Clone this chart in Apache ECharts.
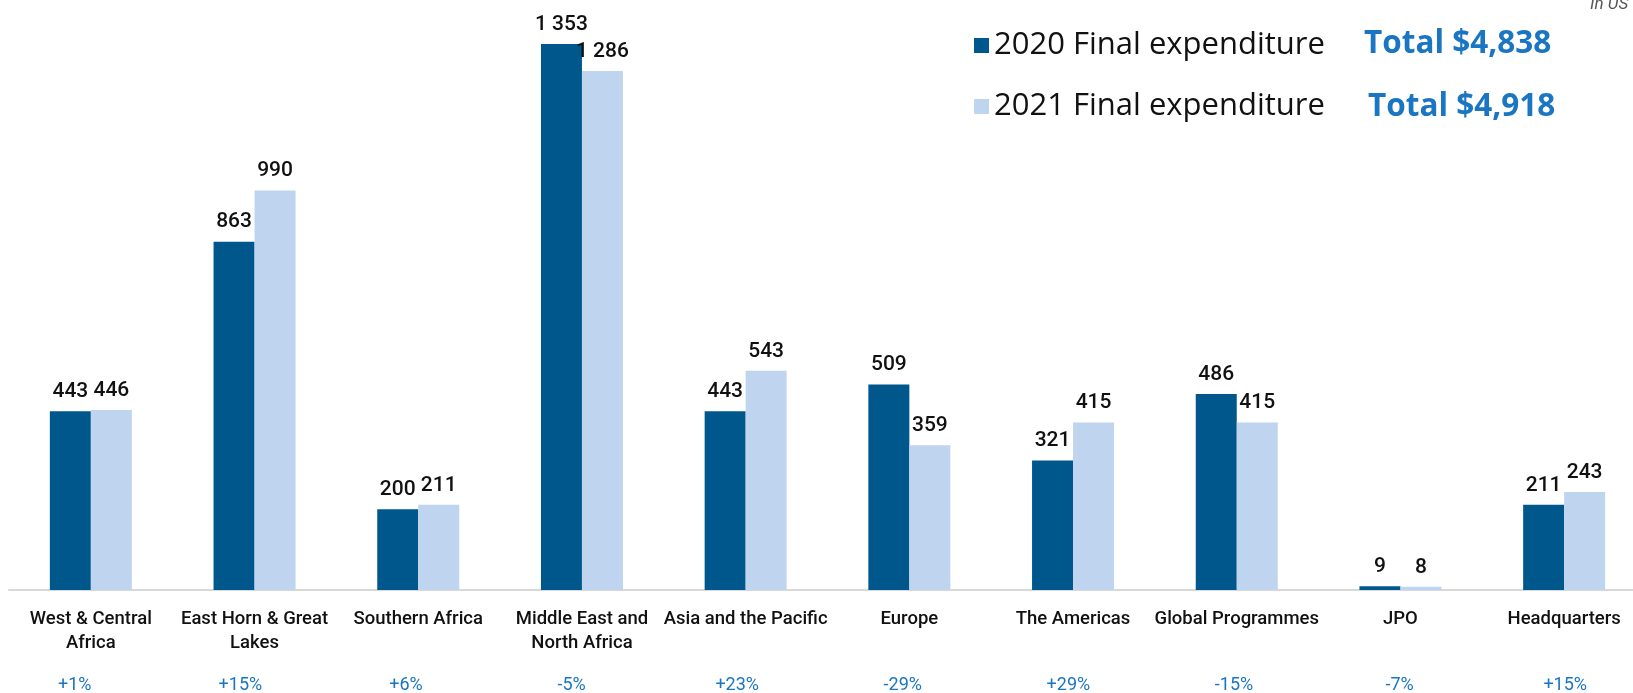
<!DOCTYPE html>
<html><head><meta charset="utf-8">
<script src="https://cdn.jsdelivr.net/npm/echarts@6/dist/echarts.min.js"></script>
<style>html,body{margin:0;padding:0;background:#fff}#c{width:1633px;height:693px}</style>
</head><body><div id="c"></div>
<script>
const categories = ['West & Central\nAfrica','East Horn & Great\nLakes','Southern Africa','Middle East and\nNorth Africa','Asia and the Pacific','Europe','The Americas','Global Programmes','JPO','Headquarters'];
const values2020 = [443, 863, 200, 1353, 443, 509, 321, 486, 9, 211];
const values2021 = [446, 990, 211, 1286, 543, 359, 415, 415, 8, 243];
const changes = ['+1%','+15%','+6%','-5%','+23%','-29%','+29%','-15%','-7%','+15%'];
const seriesNames = ['2020 Final expenditure','2021 Final expenditure'];
const totals = ['Total $4,838','Total $4,918'];
const unitNote = 'In US';

const DARK = '#00578c', LIGHT = '#bfd4ee', BLUE = '#1a75c2';
const fmt = v => { const s = String(v); return s.length > 3 ? s.slice(0, -3) + ' ' + s.slice(-3) : s; };
const chart = echarts.init(document.getElementById('c'));
const lbl = { show: true, position: 'top', distance: 9, fontFamily: 'Roboto', fontWeight: 500, fontSize: 21, color: '#111', formatter: p => fmt(p.value) };
chart.setOption({
  animation: false,
  grid: [
    { left: 9, width: 1637, top: 44, height: 546, containLabel: false, outerBoundsMode: 'none' },
    { left: -8, width: 1656, top: 44, height: 546, containLabel: false, outerBoundsMode: 'none' }
  ],
  legend: {
    orient: 'vertical', left: 969, top: 25, itemWidth: 15, itemHeight: 15, itemGap: 30,
    icon: 'rect', textStyle: { fontFamily: 'Open Sans', fontSize: 31, color: '#111' },
    data: seriesNames
  },
  xAxis: [{
    type: 'category', data: categories, gridIndex: 0,
    axisLine: { lineStyle: { color: '#d9d9d9', width: 2 } }, axisTick: { show: false },
    axisLabel: { interval: 0, margin: 17, fontFamily: 'Roboto', fontWeight: 500, fontSize: 18.5, lineHeight: 24, color: '#111' }
  }, {
    type: 'category', data: changes, gridIndex: 1, position: 'bottom',
    axisLine: { show: false }, axisTick: { show: false },
    axisLabel: { interval: 0, margin: 86, fontFamily: 'Roboto', fontSize: 18, color: BLUE }
  }],
  yAxis: [
    { type: 'value', gridIndex: 0, min: 0, max: 1353, show: false, splitLine: { show: false } },
    { type: 'value', gridIndex: 1, min: 0, max: 1353, show: false, splitLine: { show: false } }
  ],
  series: [
    { name: seriesNames[0], type: 'bar', data: values2020, barWidth: 41, barGap: '0%', itemStyle: { color: DARK }, label: lbl },
    { name: seriesNames[1], type: 'bar', data: values2021, barWidth: 41, barGap: '0%', itemStyle: { color: LIGHT }, label: lbl }
  ],
  graphic: [
    { type: 'text', x: 1364, y: 44, style: { text: totals[0], verticalAlign: 'middle', fontFamily: 'Open Sans', fontWeight: 'bold', fontSize: 31.5, fill: BLUE } },
    { type: 'text', x: 1368, y: 107, style: { text: totals[1], verticalAlign: 'middle', fontFamily: 'Open Sans', fontWeight: 'bold', fontSize: 31.5, fill: BLUE } },
    { type: 'text', x: 1590, y: 5, style: { text: unitNote, verticalAlign: 'middle', fontFamily: 'Roboto', fontStyle: 'italic', fontSize: 17, fill: '#555' } }
  ]
});
</script></body></html>
